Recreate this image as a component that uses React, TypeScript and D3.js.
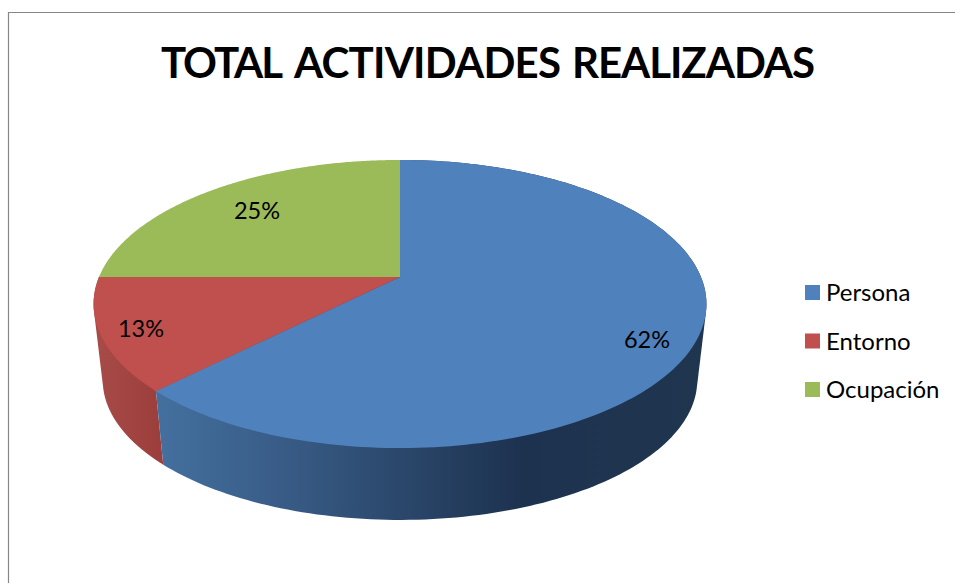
import React from "react";
import * as d3 from "d3";

const title = "TOTAL ACTIVIDADES REALIZADAS";
const categories = ["Persona", "Entorno", "Ocupación"];
const values = [62.4, 12.6, 25];
const labels = ["62%", "13%", "25%"];
const colors = ["#4f81bd", "#c0504d", "#9bbb59"];

const W = 955, H = 583;
const cx = 400, cy = 277;
const B = 301, A = 139, K = 0.1875;
const S = 0.97, D = 77;

type P = [number, number];
const project = (t: number): P => {
  const x = Math.sin(t), y = -Math.cos(t);
  const w = 1 - K * y;
  return [(B * x) / w, (A * y) / w];
};
const topP = (t: number): P => {
  const p = project(t);
  return [cx + p[0], cy + p[1]];
};
const botP = (t: number): P => {
  const p = project(t);
  return [cx + p[0] * S, cy + p[1] * S + D];
};
const arcs = d3.pie<number>().sort(null)(values);
const line = d3.line();
const samples = (a: number, b: number) => d3.range(0, 181).map((i) => a + ((b - a) * i) / 180);

const topPath = (a: number, b: number) =>
  line([[cx, cy], ...samples(a, b).map(topP)]) + "Z";
const wallPath = (a: number, b: number) => {
  const s = samples(a, b);
  const hull = d3.polygonHull([...s.map(topP), ...s.map(botP)]) as P[];
  return line(hull) + "Z";
};

const legendY = d3.scalePoint<string>().domain(categories).range([293, 390]);
const labelPos: P[] = [[647, 340], [141, 329], [257, 211]];
const titleSpans: [number, number][] = [[161, 122], [294, 267], [572, 243]];

export default function App() {
  return (
    <svg width={W} height={H} style={{ position: "absolute", left: 0, top: 0, background: "#fff" }}>
      <defs>
        <linearGradient id="wallBlue" gradientUnits="userSpaceOnUse" x1={155} x2={710} y1={0} y2={0}>
          <stop offset="0" stopColor="#44709f" />
          <stop offset="0.25" stopColor="#375a84" />
          <stop offset="0.66" stopColor="#1d324f" />
          <stop offset="1" stopColor="#20364f" />
        </linearGradient>
        <linearGradient id="wallRed" gradientUnits="userSpaceOnUse" x1={93} x2={160} y1={0} y2={0}>
          <stop offset="0" stopColor="#a84c49" />
          <stop offset="1" stopColor="#9c3f3c" />
        </linearGradient>
      </defs>
      <path d={`M8.5 583V12.5H955`} fill="none" stroke="#868686" strokeWidth={1.2} />
      {title.split(" ").map((word, i) => (
        <text key={word} x={titleSpans[i][0]} y={78} fontFamily="Lato" fontWeight={700} fontSize={42} fill="#000" textLength={titleSpans[i][1]} lengthAdjust="spacing">{word}</text>
      ))}
      <path d={wallPath(arcs[1].startAngle, arcs[1].endAngle)} fill="url(#wallRed)" />
      <path d={wallPath(arcs[0].startAngle, arcs[0].endAngle)} fill="url(#wallBlue)" />
      {arcs.map((a, i) => (
        <path key={i} d={topPath(a.startAngle, a.endAngle)} fill={colors[i]} />
      ))}
      {labels.map((l, i) => (
        <text key={l} x={labelPos[i][0]} y={labelPos[i][1]} dy="0.35em" textAnchor="middle" fontFamily="Lato" fontSize={23.5} fill="#000">{l}</text>
      ))}
      {categories.map((c, i) => (
        <g key={c}>
          <rect x={805} y={legendY(c)! - 8} width={15} height={15} fill={colors[i]} />
          <text x={826} y={legendY(c)!} dy="0.35em" fontFamily="Lato" fontSize={24} fill="#000">{c}</text>
        </g>
      ))}
    </svg>
  );
}
